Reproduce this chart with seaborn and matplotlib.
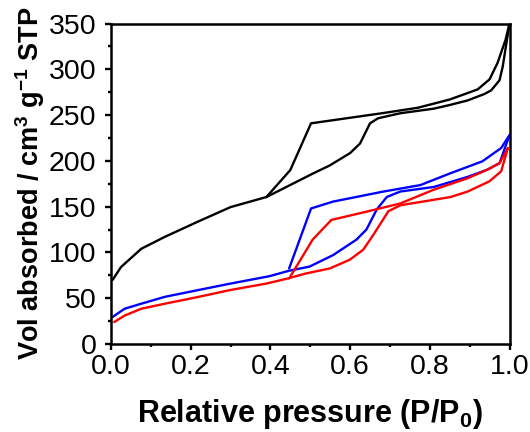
import matplotlib
matplotlib.use("Agg")
import matplotlib.pyplot as plt
import seaborn as sns
import pandas as pd
from matplotlib.ticker import MultipleLocator

sns.set_style("ticks")
plt.rcParams['font.family'] = ['Liberation Sans', 'DejaVu Sans']
plt.rcParams['mathtext.fontset'] = 'custom'
plt.rcParams['mathtext.rm'] = 'Liberation Sans:bold'
plt.rcParams['mathtext.bf'] = 'Liberation Sans:bold'
plt.rcParams['mathtext.default'] = 'bf'
plt.rcParams['text.color'] = 'black'
plt.rcParams['axes.labelcolor'] = 'black'

# Black sample
black_ads_x = [0.004, 0.025, 0.076, 0.135, 0.22, 0.30, 0.39, 0.456, 0.506, 0.549, 0.60, 0.625, 0.65, 0.67, 0.726, 0.81, 0.85, 0.895, 0.937, 0.954, 0.975, 0.983, 1.0]
black_ads_y = [70, 84, 104, 117, 134, 149.5, 160.5, 175, 186, 195, 208.5, 219, 241, 246.5, 252, 257, 261, 266, 273, 277, 288, 303, 350]
black_des_x = [1.0, 0.99, 0.97, 0.95, 0.92, 0.85, 0.77, 0.68, 0.502, 0.45, 0.39]
black_des_y = [350, 332, 307, 289, 278, 267, 258, 252, 241, 190, 160.5]

# Blue sample
blue_ads_x = [0.004, 0.034, 0.076, 0.135, 0.22, 0.30, 0.397, 0.447, 0.498, 0.557, 0.616, 0.641, 0.667, 0.692, 0.726, 0.81, 0.895, 0.945, 0.975, 1.0]
blue_ads_y = [29.5, 38.5, 44, 51.5, 59, 66, 74, 80, 84.5, 97, 114, 125, 147, 160.5, 166.5, 171.5, 182.5, 190.5, 197.5, 228]
blue_des_x = [1.0, 0.979, 0.932, 0.852, 0.776, 0.684, 0.557, 0.502, 0.447]
blue_des_y = [228, 214, 199.5, 186.5, 173.5, 166.5, 155.5, 148, 82.5]

# Red sample
red_ads_x = [0.008, 0.034, 0.076, 0.135, 0.22, 0.30, 0.39, 0.443, 0.489, 0.549, 0.599, 0.633, 0.658, 0.696, 0.726, 0.81, 0.852, 0.895, 0.949, 0.979, 0.996]
red_ads_y = [24, 31, 38.5, 44, 51.5, 59, 66, 71.5, 77, 82.5, 92, 103, 119, 145, 151.5, 157.5, 160.5, 166.5, 177.5, 188.5, 214]
red_des_x = [0.996, 0.975, 0.945, 0.895, 0.81, 0.726, 0.641, 0.553, 0.506, 0.447]
red_des_y = [214, 197.5, 190.5, 181, 168.5, 153.5, 144.5, 135.5, 114, 71.5]

series = [
    ("black", black_ads_x, black_ads_y, black_des_x, black_des_y),
    ("blue", blue_ads_x, blue_ads_y, blue_des_x, blue_des_y),
    ("red", red_ads_x, red_ads_y, red_des_x, red_des_y),
]

fig = plt.figure(figsize=(5.3, 4.32), dpi=100)
L, R, T, B = 111, 509.5, 23.5, 344
ax = fig.add_axes([L/530, 1-B/432, (R-L)/530, (B-T)/432])

for color, ax_x, ax_y, dx, dy in series:
    for xs, ys in ((ax_x, ax_y), (dx, dy)):
        df = pd.DataFrame({"x": xs, "y": ys})
        sns.lineplot(data=df, x="x", y="y", sort=False, estimator=None,
                     color=color, lw=1.7, ax=ax)

ax.set_xlim(0, 1.0)
ax.set_ylim(0, 350)
ax.xaxis.set_major_locator(MultipleLocator(0.2))
ax.xaxis.set_minor_locator(MultipleLocator(0.1))
ax.yaxis.set_major_locator(MultipleLocator(50))
ax.yaxis.set_minor_locator(MultipleLocator(25))
ax.set_xticks([0, 0.2, 0.4, 0.6, 0.8, 1.0])
ax.set_xticklabels(["0.0", "0.2", "0.4", "0.6", "0.8", "1.0"])
ax.tick_params(axis='both', which='major', direction='out', length=4.5, width=1.7,
               labelsize=20.5, color='black', labelcolor='black')
ax.tick_params(axis='x', which='major', pad=3)
ax.tick_params(axis='y', which='major', pad=6)
ax.tick_params(axis='both', which='minor', direction='out', length=2.5, width=1.7, color='black')
ax.tick_params(top=False, right=False, which='both')
for s in ax.spines.values():
    s.set_linewidth(1.8)
    s.set_color('black')

ax.set_xlabel(r"Relative pressure (P/P$_0$)", fontsize=22, fontweight='bold')
ax.set_ylabel(r"Vol absorbed / cm$^3$ g$^{-1}$ STP", fontsize=19.5, fontweight='bold')
ax.xaxis.set_label_coords(0.5, (B-397)/(B-T))
ax.yaxis.set_label_coords((47-L)/(R-L), 0.5)

fig.savefig("out.png", dpi=100)
